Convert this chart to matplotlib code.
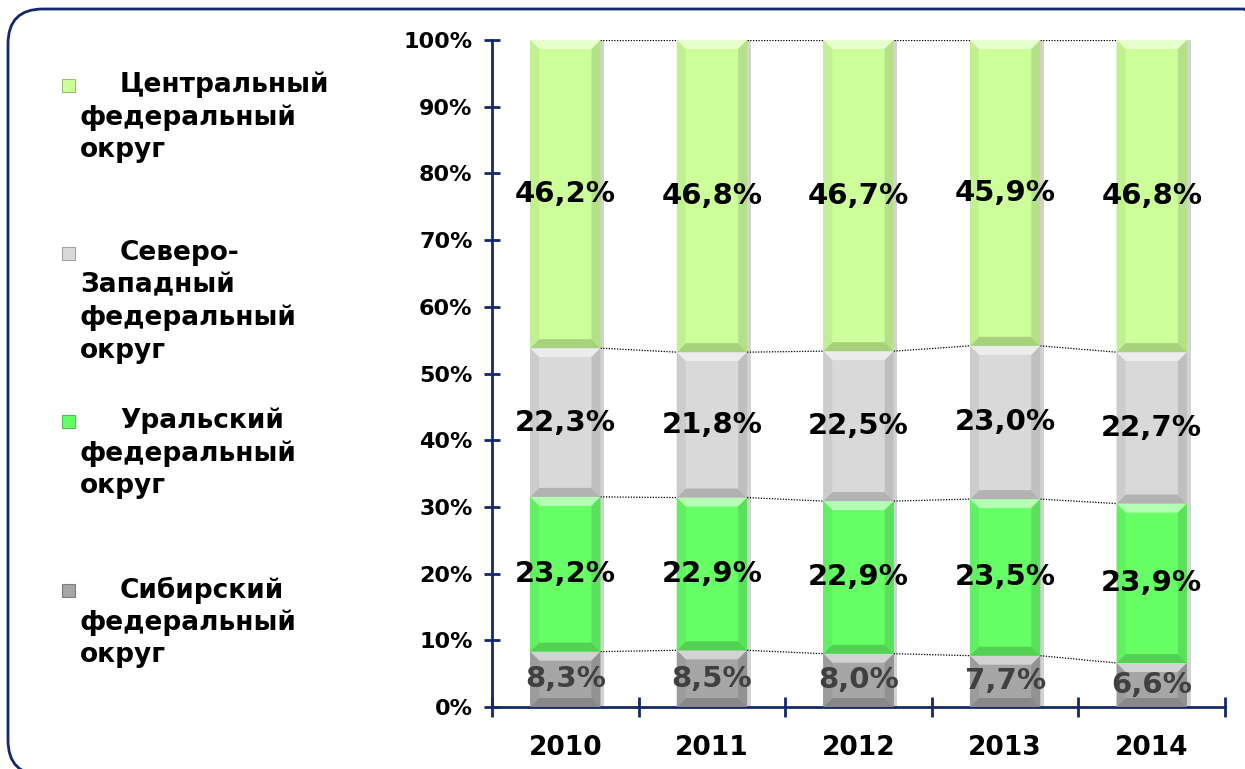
import numpy as np
import matplotlib
matplotlib.use('Agg')
import matplotlib.pyplot as plt
from matplotlib.patches import FancyBboxPatch
from matplotlib.colors import to_rgb

plt.rcParams['font.family'] = ['DejaVu Sans']

# Данные
years = ['2010', '2011', '2012', '2013', '2014']
siberia = [8.3, 8.5, 8.0, 7.7, 6.6]
ural = [23.2, 22.9, 22.9, 23.5, 23.9]
northwest = [22.3, 21.8, 22.5, 23.0, 22.7]
central = [46.2, 46.8, 46.7, 45.9, 46.8]

series = [siberia, ural, northwest, central]
names = ['Сибирский\nфедеральный\nокруг',
         'Уральский\nфедеральный\nокруг',
         'Северо-\nЗападный\nфедеральный\nокруг',
         'Центральный\nфедеральный\nокруг']
colors = ['#A6A6A6', '#66FF66', '#D9D9D9', '#CCFF99']
label_colors = ['#404040', 'black', 'black', 'black']
navy = '#14286E'


def mix(c, other, t):
    c = np.array(to_rgb(c))
    o = np.array(to_rgb(other))
    return tuple(c * (1 - t) + o * t)


fig = plt.figure(figsize=(12.45, 7.69), dpi=100)

# рамка со скруглёнными углами
frame = FancyBboxPatch((8 / 1245, -6 / 769), 1270 / 1245, 766 / 769,
                       boxstyle='round,pad=0,rounding_size=0.028',
                       transform=fig.transFigure, fill=False,
                       edgecolor=navy, linewidth=2, mutation_aspect=1245 / 769)
fig.patches.append(frame)

ax = fig.add_axes([492 / 1245, 1 - 707 / 769, 733 / 1245, 667 / 769])

vals = np.array(series, dtype=float)
pct = vals / vals.sum(axis=0) * 100
x = np.arange(len(years))
w = 0.48
dx = 9 / 146.6
dy = 9 / 6.67

bottoms = np.zeros(len(years))
bounds = []
for k in range(len(series)):
    tops = bottoms + pct[k]
    # тень справа
    ax.bar(x + 0.025, pct[k], w, bottom=bottoms, color='#808080',
           alpha=0.35, linewidth=0, zorder=1)
    for i in range(len(years)):
        x0, x1 = x[i] - w / 2, x[i] + w / 2
        y0, y1 = bottoms[i], tops[i]
        c = colors[k]
        ax.fill([x0, x1, x1, x0], [y0, y0, y1, y1], color=c, lw=0, zorder=2)
        ax.fill([x0, x1, x1 - dx, x0 + dx], [y1, y1, y1 - dy, y1 - dy],
                color=mix(c, 'white', 0.5), lw=0, zorder=3)
        ax.fill([x0, x1, x1 - dx, x0 + dx], [y0, y0, y0 + dy, y0 + dy],
                color=mix(c, 'black', 0.18), lw=0, zorder=3)
        ax.fill([x0, x0 + dx, x0 + dx, x0], [y0, y0 + dy, y1 - dy, y1],
                color=mix(c, 'black', 0.06), lw=0, zorder=3)
        ax.fill([x1, x1 - dx, x1 - dx, x1], [y0, y0 + dy, y1 - dy, y1],
                color=mix(c, 'black', 0.12), lw=0, zorder=3)
        ax.text(x[i], (y0 + y1) / 2, f'{series[k][i]:.1f}%'.replace('.', ','),
                ha='center', va='center', fontsize=21, fontweight='bold',
                color=label_colors[k], zorder=5)
    bounds.append(tops.copy())
    bottoms = tops

# пунктирные линии между столбцами
for b in bounds:
    for i in range(len(years) - 1):
        ax.plot([x[i] + w / 2, x[i + 1] - w / 2], [b[i], b[i + 1]],
                color='black', linestyle=(0, (1, 1.2)), linewidth=0.9, zorder=2)

ax.set_xlim(-0.5, len(years) - 0.5)
ax.set_ylim(0, 100)
for s in ['top', 'right']:
    ax.spines[s].set_visible(False)
for s in ['left', 'bottom']:
    ax.spines[s].set_color(navy)
    ax.spines[s].set_linewidth(2)

ax.set_yticks(np.arange(0, 101, 10))
ax.set_yticklabels([f'{v}%' for v in range(0, 101, 10)],
                   fontsize=16, fontweight='bold')
ax.tick_params(axis='y', direction='inout', length=12, width=2,
               color=navy, pad=8)
ax.set_xticks(np.arange(-0.5, len(years), 1))
ax.set_xticklabels([])
ax.tick_params(axis='x', which='major', direction='inout', length=14,
               width=2, color=navy)
ax.set_xticks(x, minor=True)
ax.set_xticklabels(years, minor=True, fontsize=19, fontweight='bold')
ax.tick_params(axis='x', which='minor', length=0, pad=20)

# легенда
legend_rows = [(3, 85), (2, 253), (1, 421), (0, 590)]
for k, ytop in legend_rows:
    lines = names[k].split('\n')
    fig.patches.append(plt.Rectangle((62 / 1245, 1 - (ytop + 7) / 769),
                                     13 / 1245, 13 / 769,
                                     transform=fig.transFigure,
                                     facecolor=colors[k],
                                     edgecolor=mix(colors[k], 'black', 0.25),
                                     linewidth=0.8))
    for j, line in enumerate(lines):
        xx = 120 if j == 0 else 80
        fig.text(xx / 1245, 1 - (ytop + 32.5 * j) / 769, line,
                 fontsize=19, fontweight='bold', va='center', ha='left')

fig.savefig('out.png', dpi=100)
